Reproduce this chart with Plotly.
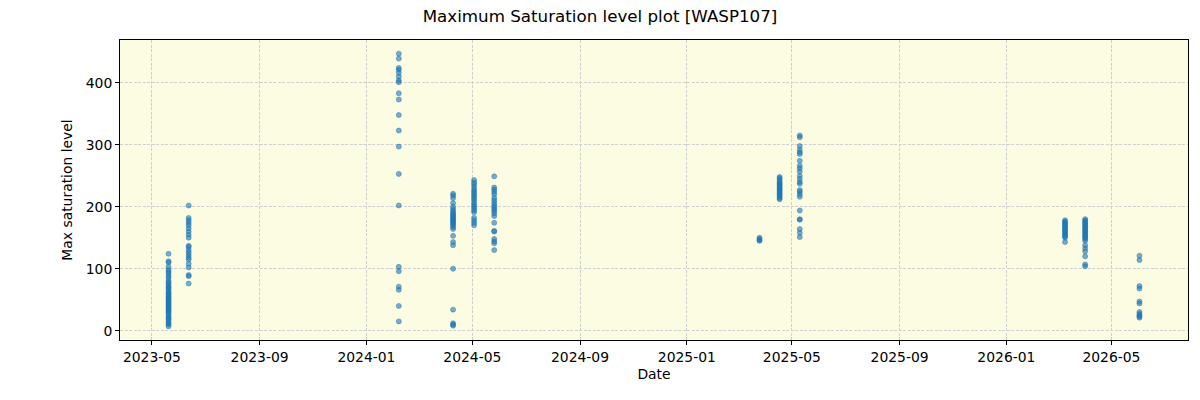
import pandas as pd
import plotly.graph_objects as go

# Observation nights
night_dates = ["2023-05-20", "2023-06-12", "2024-02-07", "2024-04-09", "2024-05-03", "2024-05-26",
               "2025-03-25", "2025-04-17", "2025-05-10", "2026-03-09", "2026-04-01", "2026-06-02"]

sat_2023_05_20 = [124, 112, 110, 103, 98, 95, 92, 88, 85, 80, 78, 75, 72, 70, 68, 65, 62, 60, 58, 56,
                  54, 52, 50, 48, 46, 44, 42, 40, 38, 36, 34, 32, 30, 28, 25, 22, 20, 18, 15, 12, 10, 7]
sat_2023_06_12 = [202, 182, 178, 174, 170, 165, 160, 155, 150, 137, 135, 130, 126, 122, 118, 115, 108,
                  102, 90, 88, 76]
sat_2024_02_07 = [447, 439, 424, 421, 416, 410, 404, 401, 383, 373, 348, 323, 297, 253, 202, 103, 96,
                  71, 66, 40, 15]
sat_2024_04_09 = [221, 218, 214, 206, 200, 196, 193, 190, 188, 186, 184, 182, 180, 178, 176, 174, 172,
                  170, 167, 164, 153, 143, 138, 100, 34, 12, 10, 8]
sat_2024_05_03 = [243, 239, 236, 232, 228, 225, 222, 219, 216, 213, 210, 206, 203, 200, 197, 194, 191,
                  182, 178, 174, 170]
sat_2024_05_26 = [249, 231, 228, 224, 220, 214, 210, 206, 202, 199, 196, 193, 189, 185, 174, 161, 160,
                  148, 144, 141, 130]
sat_2025_03_25 = [150, 148, 146, 145]
sat_2025_04_17 = [248, 246, 243, 240, 238, 236, 234, 232, 230, 228, 226, 224, 222, 220, 218, 216, 214, 212]
sat_2025_05_10 = [315, 312, 298, 292, 288, 285, 274, 266, 262, 257, 250, 245, 240, 237, 227, 224, 220,
                  216, 194, 180, 179, 164, 158, 151]
sat_2026_03_09 = [178, 176, 174, 172, 170, 168, 166, 164, 162, 160, 158, 156, 154, 152, 150, 143]
sat_2026_04_01 = [180, 178, 176, 174, 172, 170, 168, 166, 164, 162, 160, 158, 156, 154, 152, 150, 148,
                  145, 138, 133, 128, 120, 107, 104]
sat_2026_06_02 = [121, 114, 72, 68, 47, 44, 30, 27, 25, 23, 21]

night_values = [sat_2023_05_20, sat_2023_06_12, sat_2024_02_07, sat_2024_04_09, sat_2024_05_03,
                sat_2024_05_26, sat_2025_03_25, sat_2025_04_17, sat_2025_05_10, sat_2026_03_09,
                sat_2026_04_01, sat_2026_06_02]

xs, ys = [], []
for d, vals in zip(night_dates, night_values):
    for v in vals:
        xs.append(d)
        ys.append(v)
xs = pd.to_datetime(xs)

# matplotlib-like 5% margins
xmin, xmax = xs.min(), xs.max()
xpad = (xmax - xmin) * 0.05
ymin, ymax = min(ys), max(ys)
ypad = (ymax - ymin) * 0.05

fig = go.Figure(go.Scatter(
    x=xs, y=ys, mode="markers",
    marker=dict(size=5, color="rgba(31,119,180,0.6)",
                line=dict(width=0.8, color="rgba(31,119,180,0.6)")),
    showlegend=False,
))

font = "DejaVu Sans"
grid_kw = dict(showgrid=True, gridcolor="#d0d0d0", griddash="3px,1.5px", gridwidth=0.8)
fig.update_layout(
    width=1200, height=400,
    margin=dict(l=120, r=12, t=40, b=60),
    paper_bgcolor="white",
    plot_bgcolor="#fcfce3",
    font=dict(family=font, size=13.9, color="black"),
    title=dict(text="Maximum Saturation level plot [WASP107]", x=0.5, xanchor="center",
               y=0.96, yanchor="middle", font=dict(size=16.7, family=font)),
)
fig.update_xaxes(
    range=[xmin - xpad, xmax + xpad],
    tickformat="%Y-%m", dtick="M4", tick0="2023-01-01",
    showline=True, linecolor="black", linewidth=1, mirror=True,
    ticks="outside", ticklen=4, tickcolor="black",
    zeroline=False, tickfont=dict(size=13.9),
    title=dict(text="Date", font=dict(size=13.9), standoff=5),
    **grid_kw,
)
fig.update_yaxes(
    range=[ymin - ypad, ymax + ypad],
    tickvals=[0, 100, 200, 300, 400],
    showline=True, linecolor="black", linewidth=1, mirror=True,
    ticks="outside", ticklen=4, tickcolor="black",
    zeroline=False, tickfont=dict(size=13.9),
    title=dict(text="Max saturation level", font=dict(size=13.9), standoff=9),
    **grid_kw,
)

fig.write_html("out.html")
